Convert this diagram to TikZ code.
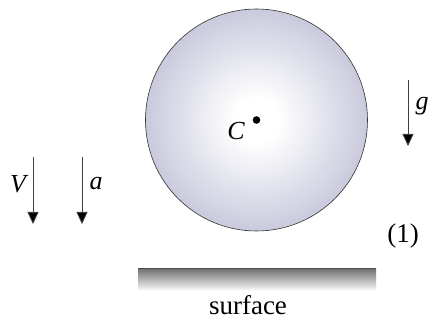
\documentclass[tikz,border=0pt]{standalone}
\usepackage{fontspec}
\setmainfont{Liberation Serif}
\usetikzlibrary{arrows.meta}
\definecolor{lav}{RGB}{172,172,202}
\pgfdeclareradialshading{ball}{\pgfpoint{0bp}{0bp}}{color(0bp)=(white); color(5bp)=(white); color(36bp)=(lav); color(50bp)=(lav)}
\tikzset{
  vec/.style={draw=black!75, line width=0.8pt, -{Triangle[width=11pt,length=12pt,fill=black]}},
  lbl/.style={font=\fontsize{26}{30}\selectfont\itshape, inner sep=0pt},
  txt/.style={font=\fontsize{27}{32}\selectfont, inner sep=0pt}
}
\begin{document}
\begin{tikzpicture}[x=1pt,y=-1pt]
\useasboundingbox[fill=white] (0,0) rectangle (432,321);
% ball
\node[circle, minimum size=222pt, inner sep=0pt, draw=black!80, line width=0.6pt, shading=ball] (ball) at (256.5,120) {};
\fill (ball.center) circle (3.8pt);
\node[lbl] (C) at (236,131) {C};
% surface
\shade[top color=black!55, bottom color=white] (138,269) rectangle (376,291);
\draw[black!70, line width=1.2pt] (138,268.5) -- (376,268.5);
\node[txt] (surf) at (248,305) {surface};
% arrows
\coordinate (V1) at (33,157); \coordinate (V2) at (33,224);
\coordinate (a1) at (82,157); \coordinate (a2) at (82,224);
\coordinate (g1) at (408,80); \coordinate (g2) at (408,146);
\draw[vec] (V1) -- (V2);
\draw[vec] (a1) -- (a2);
\draw[vec] (g1) -- (g2);
\node[lbl] (V) at (18,184) {V};
\node[lbl] (a) at (96,184) {a};
\node[lbl] (g) at (422,106) {g};
\node[txt] (one) at (403,236) {(1)};
\end{tikzpicture}
\end{document}
